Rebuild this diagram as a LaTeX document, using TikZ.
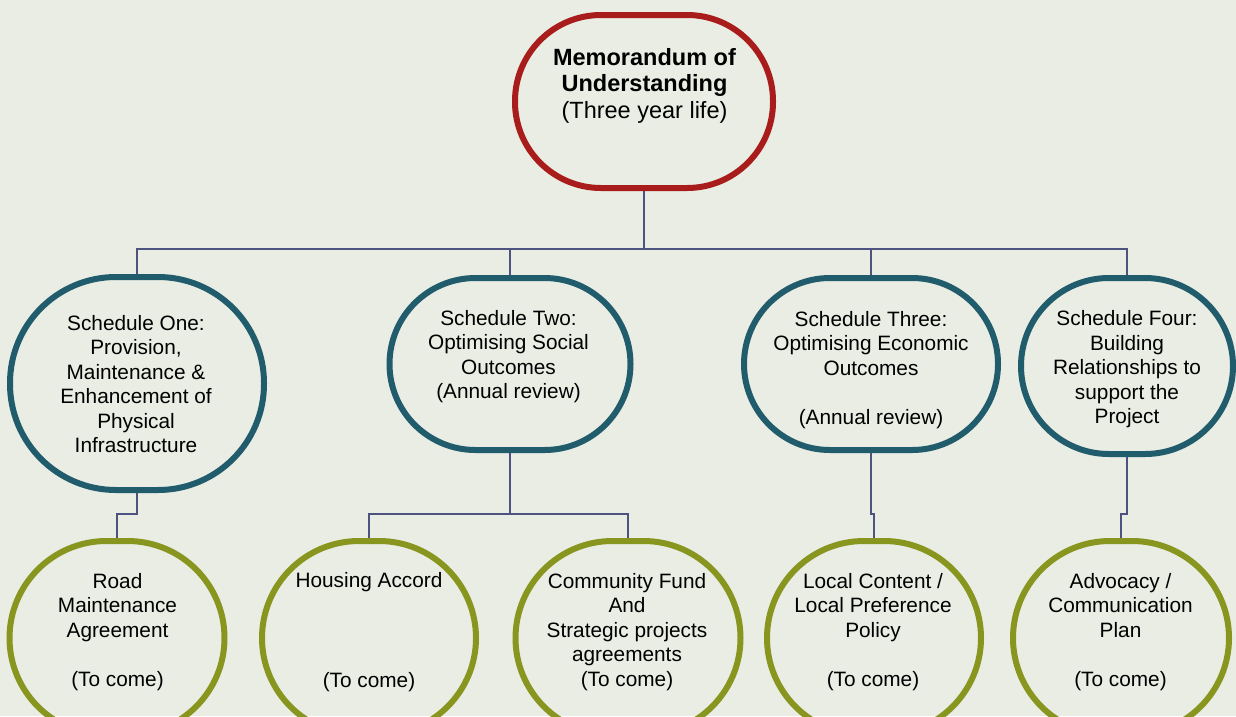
\documentclass[tikz,border=0pt]{standalone}
\usepackage{fontspec}
\setmainfont{Liberation Sans}
\definecolor{mouRed}{RGB}{168,28,28}
\definecolor{schedTeal}{RGB}{32,92,108}
\definecolor{subGreen}{RGB}{136,150,32}
\definecolor{linkBlue}{RGB}{78,82,128}
\definecolor{paper}{RGB}{234,237,228}
\tikzset{
  mainbox/.style={draw=mouRed, line width=6pt, rounded corners=86pt, minimum width=258pt, minimum height=173pt, inner sep=0pt},
  schedbox/.style={draw=schedTeal, line width=6pt, inner sep=0pt},
  subbox/.style={draw=subGreen, line width=6pt, rounded corners=97pt, minimum width=215pt, minimum height=194pt, inner sep=0pt},
  link/.style={draw=linkBlue, line width=2pt},
  bodytext/.style={align=center, font=\fontsize{20.8}{24.5}\selectfont, inner sep=0pt},
  titletext/.style={align=center, font=\fontsize{23.5}{26.5}\selectfont, inner sep=0pt}
}
\begin{document}
\begin{tikzpicture}[x=1pt,y=1pt,yscale=-1,xscale=1]
\useasboundingbox (0,0) rectangle (1236,716);
\fill[paper] (0,0) rectangle (1236,716);
\clip (0,0) rectangle (1236,716);

%Memorandum
\node[mainbox] (mou) at (644,101.5) {};
%Schedules
\node[schedbox, rounded corners=106pt, minimum width=254pt, minimum height=213pt] (sone) at (137,383.5) {};
\node[schedbox, rounded corners=86pt, minimum width=241pt, minimum height=172pt] (stwo) at (510,364) {};
\node[schedbox, rounded corners=86pt, minimum width=254pt, minimum height=172pt] (sthree) at (871,364) {};
\node[schedbox, rounded corners=88pt, minimum width=212pt, minimum height=176pt] (sfour) at (1127,366) {};
%Agreements
\node[subbox] (road) at (117,638) {};
\node[subbox, minimum width=214pt] (house) at (369,638) {};
\node[subbox, minimum width=225pt] (comm) at (628,638) {};
\node[subbox, minimum width=214pt] (local) at (874,638) {};
\node[subbox, minimum width=216pt] (advo) at (1121,638) {};

%Connectors
\coordinate (topbus) at (0,249);
\coordinate (lowbus) at (0,514);
\draw[link] (mou.south) -- (mou.south |- topbus) -| (sone.north);
\draw[link] (mou.south |- topbus) -| (stwo.north);
\draw[link] (mou.south |- topbus) -| (sthree.north);
\draw[link] (mou.south |- topbus) -| (sfour.north);
\draw[link] (sone.south) -- (sone.south |- lowbus) -| (road.north);
\draw[link] (stwo.south) -- (stwo.south |- lowbus) -| (house.north);
\draw[link] (stwo.south |- lowbus) -| (comm.north);
\draw[link] (sthree.south) -- (sthree.south |- lowbus) -| (local.north);
\draw[link] (sfour.south) -- (sfour.south |- lowbus) -| (advo.north);

% Text Node
\node[titletext] (moutext) at (644.5,85.5) {\textbf{Memorandum of}\\\textbf{Understanding}\\(Three year life)};
% Text Node
\node[bodytext] (sonetext) at (136,384) {Schedule One:\\Provision,\\Maintenance \&\\Enhancement of\\Physical\\Infrastructure};
% Text Node
\node[bodytext] (stwotext) at (508.5,356.5) {Schedule Two:\\Optimising Social\\Outcomes\\(Annual review)};
% Text Node
\node[bodytext] (sthreetext) at (871,370) {Schedule Three:\\Optimising Economic\\Outcomes\\[25pt](Annual review)};
% Text Node
\node[bodytext] (sfourtext) at (1127,369.5) {Schedule Four:\\Building\\Relationships to\\support the\\Project};
% Text Node
\node[bodytext] (roadtext) at (117.5,632) {Road\\Maintenance\\Agreement\\[25pt](To come)};
% Text Node
\node[bodytext] (housetext) at (369,632) {Housing Accord\\[75pt](To come)};
% Text Node
\node[bodytext] (commtext) at (627,632) {Community Fund\\And\\Strategic projects\\agreements\\(To come)};
% Text Node
\node[bodytext] (localtext) at (873,632) {Local Content /\\Local Preference\\Policy\\[25pt](To come)};
% Text Node
\node[bodytext] (advotext) at (1120.5,632) {Advocacy /\\Communication\\Plan\\[25pt](To come)};

\end{tikzpicture}
\end{document}
